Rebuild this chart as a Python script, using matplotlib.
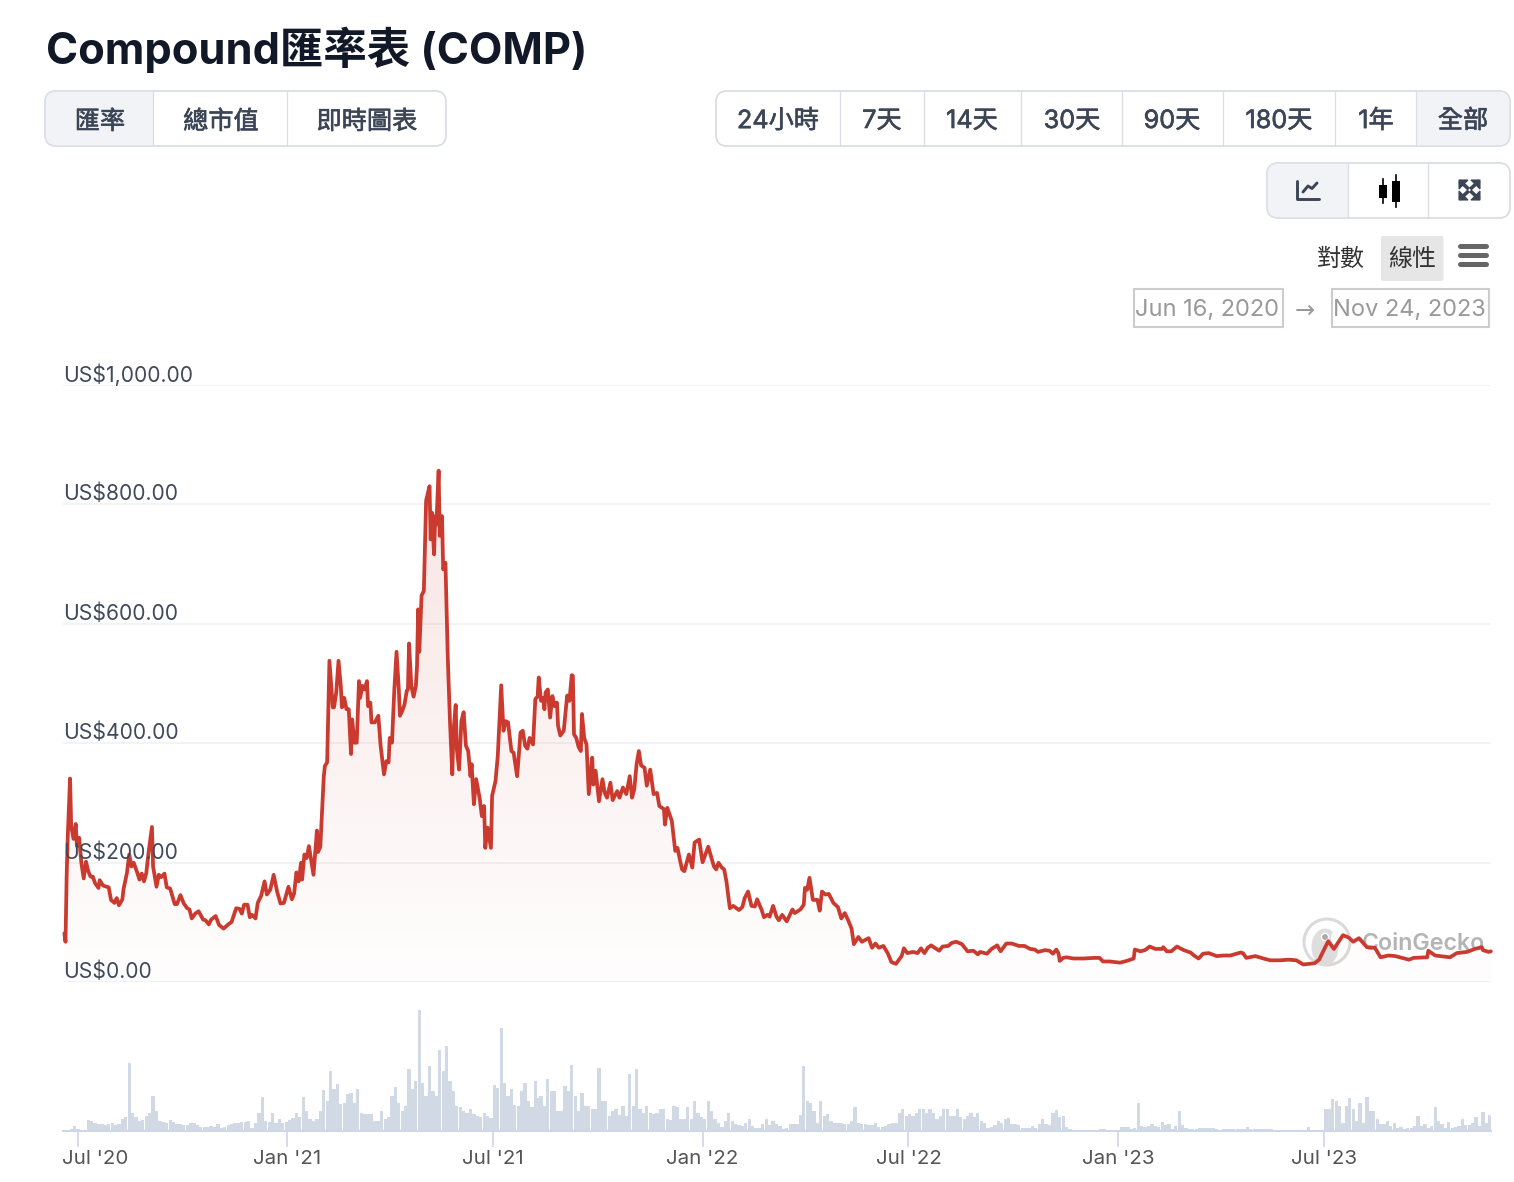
import numpy as np
import pandas as pd
import matplotlib
matplotlib.use("Agg")
import matplotlib.pyplot as plt
import matplotlib.dates as mdates
import matplotlib.patheffects as pe
from matplotlib.patches import FancyBboxPatch, Rectangle, Circle, Ellipse, Polygon
from matplotlib.transforms import ScaledTranslation

W, H = 1514, 1182
BASE_DATE = "2020-06-16"

# ---------- data ----------
price_days = [
 3,4,5,6,8,9,11,13,14,16,18,20,22,24,26,28,30,33,34,37,42,44,47,49,51,54,55,58,60,62,64,67,69,71,73,75,77,80,81,84,86,88,91,93,96,
 100,102,105,108,111,113,115,118,121,125,127,130,132,136,139,143,147,150,154,157,159,161,164,166,168,171,173,176,179,181,184,187,190,
 193,196,200,203,205,207,209,211,212,214,216,218,222,225,226,228,231,232,234,236,239,240,242,244,246,247,249,251,253,255,256,258,260,
 262,263,265,267,269,270,272,273,276,279,281,284,286,288,289,291,293,295,297,298,300,302,304,305,306,308,310,312,313,314,315,317,319,
 321,324,325,326,328,329,330,332,333,335,336,338,340,341,342,344,345,347,348,350,352,354,356,358,360,361,363,365,368,370,372,373,375,
 378,379,382,384,387,389,391,393,396,398,399,401,402,404,406,408,410,412,415,417,419,420,422,424,425,426,428,430,432,434,436,437,439,
 442,445,447,449,450,451,453,455,457,458,460,462,464,467,468,470,473,476,478,480,483,485,489,491,494,497,500,502,504,506,508,510,513,
 515,518,521,524,526,530,531,533,537,540,542,544,546,548,552,555,557,561,564,569,574,576,578,581,583,585,588,591,596,599,601,604,607,
 610,612,616,618,621,623,626,629,631,634,638,643,645,650,653,654,656,658,661,665,667,669,672,675,679,683,686,689,692,695,697,701,704,
 710,713,716,719,723,727,730,734,739,741,744,749,753,756,759,762,765,768,772,775,780,783,787,792,797,802,806,808,814,818,823,826,831,
 836,842,847,852,856,859,865,869,872,875,877,878,881,884,890,899,908,913,916,922,931,937,943,944,949,953,957,962,968,969,972,976,981,
 987,993,996,1000,1004,1009,1016,1022,1028,1037,1039,1042,1050,1057,1063,1072,1079,1086,1092,1102,1106,1114,1119,1127,1132,1136,1141,
 1148,1155,1160,1167,1173,1185,1189,1201,1202,1208,1221,1227,1236,1243,1249,1250,1255,1257]
price_usd = [
 82,68,177,245,341,262,240,265,228,242,199,174,202,186,177,177,166,158,171,162,159,138,133,141,129,139,156,183,214,194,200,184,172,182,169,183,217,260,194,160,180,176,182,159,157,
 131,131,146,132,124,122,107,115,119,105,104,97,105,111,96,90,97,101,124,123,115,130,130,109,113,107,133,145,169,147,155,180,152,
 132,133,160,139,149,184,169,200,172,214,208,228,180,254,218,227,343,362,368,538,460,460,485,538,496,460,476,457,457,382,440,401,401,
 504,476,496,490,504,462,468,435,435,446,396,348,370,368,409,401,488,553,490,446,454,465,488,490,567,496,478,496,529,624,553,647,655,
 806,830,741,786,716,780,766,856,747,780,691,702,546,488,435,348,418,464,390,356,437,452,396,387,345,365,298,340,309,278,295,225,259,
 225,312,337,379,497,421,437,435,387,384,370,345,368,418,421,396,391,409,398,474,478,510,471,476,457,485,490,443,479,462,468,429,413,
 421,480,471,514,513,415,409,394,387,449,409,398,315,376,331,354,303,340,317,309,334,305,320,309,326,315,345,309,323,365,387,363,359,
 329,356,315,317,295,290,264,292,270,220,225,206,189,186,214,192,234,239,201,227,194,189,200,192,189,169,124,128,121,126,141,152,128,
 127,139,121,109,113,110,128,110,104,113,102,122,116,122,130,158,155,175,138,138,120,152,147,148,133,126,107,116,104,90,64,76,68,
 74,58,65,58,61,48,34,31,44,57,49,51,49,57,49,58,62,58,53,60,61,66,68,64,52,53,47,51,48,56,62,52,65,
 65,61,61,56,55,51,54,53,48,55,48,36,41,42,40,40,41,41,35,35,33,36,40,55,52,54,60,56,56,59,52,52,60,
 54,50,45,40,48,49,44,45,45,50,49,41,44,40,37,37,38,37,30,32,38,69,56,79,75,68,74,
 59,58,42,45,44,38,41,42,53,45,42,49,51,56,59,54,51,52]

# traded volume, one reading every third day, in pixel-sized relative units
vol_start_2020 = 3
vol_2020_21 = [1,1,2,5,2,1,1,11,10,8,7,7,6,7,8,6,7,12,14,68,18,14,10,11,15,18,35,20,10,9,8,11,9,7,7,6,6,8,8,6,4,4,4,5,4,7,3,4,6,7,8,8,9,9,10,3,8,18,34,10,9,18,8,12,8,9,11,13,18,14,34,20,12,10,12,20,41,30,60,42,47,27,28,37,38,28,42,18,17,17,17,10,10,20,12,14,35,44,28,20,25,62,42,50,121,48,35,65,40,35,81,60,85,50,40,25,24,20,18,22,17,15,14,18,15,13,46,43,103,48,35,42,26,25,40,48,30,24,50,33]
vol_start_2021 = 422
vol_2021_22 = [35,25,52,40,40,20,20,45,40,66,35,20,38,25,25,22,22,63,30,30,15,20,22,16,25,15,57,25,62,22,18,25,18,17,18,22,22,12,11,25,24,12,12,24,12,30,18,14,12,30,20,12,8,4,10,18,10,7,6,5,8,12,5,3,3,7,12,6,10,7,5,2,3,7,7,7,16,65,30,28,20,8,30,15,17,10,8,8,8,7,7,10,24,8,7,7,6,6,8,4,4,5,7,8,8,18,22,15,17,15,18,22,22,18,22,18,12,15,22,22,15,15,22,14,12,15,18,14,18,10,8,3,4,6,10]
vol_start_2022 = 827
vol_2022_23 = [8,12,13,7,7,6,3,3,3,5,3,7,12,7,6,18,21,14,15,4,2,1,1,1,1,1,1,1,1,2,2,1,1,1,1,4,4,4,2,3,28,5,4,5,7,5,4,9,6,7,2,5,20,6,3,2,2,2,3,3,3,3,3,2,1,2,2,2,2,2,2,2,4,2,2,2,2,2,2,2,1,1,1,1,1,1,1,1,1,1,4,1,1,1,1,22,22,32,30,25,8,25,33,22,10,28,8,34,20,20,12,7,7,10,5,8,3,4,2,3,3,5,15,5,7,3,5,24,10,7,3,9,3,4,5,12,6,6,8,14,5,19,8,16,5,11]

price_ticks = [0, 200, 400, 600, 800, 1000]
price_labels = ["US$0.00", "US$200.00", "US$400.00", "US$600.00", "US$800.00", "US$1,000.00"]
date_ticks = ["2020-07-01", "2021-01-01", "2021-07-01", "2022-01-01", "2022-07-01", "2023-01-01", "2023-07-01"]
date_labels = ["Jul '20", "Jan '21", "Jul '21", "Jan '22", "Jul '22", "Jan '23", "Jul '23"]
title = "Compound匯率表 (COMP)"
metric_tabs = ["匯率", "總市值", "即時圖表"]
range_tabs = ["24小時", "7天", "14天", "30天", "90天", "180天", "1年", "全部"]
scale_tabs = ["對數", "線性"]
date_from, date_to = "Jun 16, 2020", "Nov 24, 2023"

# ---------- style ----------
RED = "#cb3a2f"
LATIN = ["Inter", "Noto Sans CJK TC", "DejaVu Sans"]
CJK = ["Noto Sans CJK TC", "DejaVu Sans"]
BTN = "#3b4556"
BORDER = "#dadde3"
ACTIVE = "#f1f3f7"

fig = plt.figure(figsize=(W / 100, H / 100), dpi=100, facecolor="white")
def px_axes(l, t, r, b, **kw):
    return fig.add_axes([l / W, 1 - b / H, (r - l) / W, (b - t) / H], **kw)

# UI layer in pixel coordinates
ui = px_axes(0, 0, W, H, zorder=0)
ui.set_xlim(0, W); ui.set_ylim(H, 0); ui.axis("off")

def T(x, y, s, px, color=BTN, weight="normal", ha="center", family=CJK, z=5, thick=0):
    t = ui.text(x, y, s, fontsize=px * 0.72, color=color, fontweight=weight, ha=ha, va="center_baseline",
                family=family, zorder=z)
    if thick:
        t.set_path_effects([pe.withStroke(linewidth=thick, foreground=color)])

def group(x0, x1, y0, y1, dividers, active):
    ui.add_patch(FancyBboxPatch((x0, y0), x1 - x0, y1 - y0, boxstyle="round,pad=0,rounding_size=11",
                                fc="white", ec=BORDER, lw=1.0, zorder=1))
    a0, a1 = active
    clip = FancyBboxPatch((x0, y0), x1 - x0, y1 - y0, boxstyle="round,pad=0,rounding_size=11",
                          fc="none", ec="none", transform=ui.transData)
    ui.add_patch(clip)
    r = Rectangle((a0, y0), a1 - a0, y1 - y0, fc=ACTIVE, ec="none", zorder=1.2)
    ui.add_patch(r); r.set_clip_path(clip)
    ui.add_patch(FancyBboxPatch((x0, y0), x1 - x0, y1 - y0, boxstyle="round,pad=0,rounding_size=11",
                                fc="none", ec=BORDER, lw=1.0, zorder=1.5))
    for d in dividers:
        ui.plot([d, d], [y0, y1], color=BORDER, lw=0.9, zorder=1.6, solid_capstyle="butt")

T(46, 45, title, 43.4, color="#111827", weight="bold", ha="left", family=LATIN)

group(45, 446, 91, 146, [153, 287], (45, 153))
for cx, s in zip([100, 221, 367], metric_tabs):
    T(cx, 119, s, 25.2, thick=0.45)

group(716, 1510, 91, 146, [840, 924, 1021, 1122, 1223, 1335, 1416], (1416, 1510))
for cx, s in zip([778, 882, 972, 1072, 1172, 1279, 1376, 1463], range_tabs):
    T(cx, 119, s, 25.2, family=LATIN, thick=0.45)

group(1267, 1510, 163, 218, [1348, 1428], (1267, 1348))
# line-chart icon
ui.plot([1297, 1297, 1319], [181, 199, 199], color=BTN, lw=2.1, solid_capstyle="round", solid_joinstyle="round", zorder=6)
ui.plot([1303, 1308, 1312, 1317], [192, 186, 188.5, 183], color=BTN, lw=2.1, solid_capstyle="round", zorder=6)
# candlestick icon
for cx, b0, b1, w0, w1, bw in [(1382.7, 185, 198, 179, 203, 8), (1396, 181, 202, 175, 207, 8)]:
    ui.plot([cx, cx], [w0, w1], color="black", lw=1.2, zorder=6)
    ui.add_patch(Rectangle((cx - bw / 2, b0), bw, b1 - b0, fc="black", ec="none", zorder=6))
# expand icon
for sx, sy in [(-1, -1), (1, -1), (-1, 1), (1, 1)]:
    cx, cy = 1469.5 + sx * 10.5, 190 + sy * 10
    ui.add_patch(Polygon([(cx, cy), (cx - sx * 9, cy), (cx, cy - sy * 9)], fc=BTN, ec=BTN, lw=0.8, zorder=6))
    ui.plot([1469.5 + sx * 2, cx - sx * 2], [190 + sy * 2, cy - sy * 2], color=BTN, lw=2.6, zorder=6)

# scale switch
ui.add_patch(FancyBboxPatch((1381, 236), 62.5, 45, boxstyle="round,pad=0,rounding_size=2", fc="#e6e6e6", ec="none", zorder=1))
T(1341, 257, scale_tabs[0], 24, color="#333333")
T(1412, 257, scale_tabs[1], 24, color="#333333")
for y in [246, 254.5, 263.5]:
    ui.plot([1460, 1486], [y, y], color="#666666", lw=3.6, solid_capstyle="round", zorder=5)

# date range boxes
for x0, x1, s in [(1133.5, 1282.5, date_from), (1331.5, 1489, date_to)]:
    ui.add_patch(Rectangle((x0, 289), x1 - x0, 37.5, fc="white", ec="#cccccc", lw=1.5, zorder=1))
    T((x0 + x1) / 2 - 1, 307.5, s, 23.6, color="#999999", family=LATIN)
T(1305, 308, "→", 24, color="#999999", family=["DejaVu Sans"])

# CoinGecko watermark (behind the price line)
ui.add_patch(Circle((1327, 942), 23, fc="white", ec="#dadada", lw=2.2, zorder=2))
ui.add_patch(Ellipse((1325, 947), 27, 37, fc="#dedede", ec="none", zorder=2.1))
ui.add_patch(Ellipse((1337, 938), 12, 16, fc="white", ec="none", zorder=2.2))
ui.add_patch(Circle((1325, 937), 3.6, fc="#a9a9a9", ec="white", lw=1, zorder=2.3))
T(1362, 941, "CoinGecko", 23.2, color="#b4b4b4", weight="semibold", ha="left", family=LATIN, z=2.4)

# ---------- price ----------
base = pd.Timestamp(BASE_DATE)
def to_num(days):
    return mdates.date2num(base + pd.to_timedelta(np.asarray(days, dtype=float), unit="D"))

ax = px_axes(63, 384.6, 1491, 982.4, zorder=1)
ax.patch.set_alpha(0)
x = to_num(price_days)
y = np.asarray(price_usd, dtype=float)
xmin, xmax = to_num([1.8])[0], to_num([1257.1])[0]

top = y.max()
grad = np.zeros((256, 2, 4))
grad[..., :3] = matplotlib.colors.to_rgb(RED)
grad[..., 3] = np.linspace(0.135, 0.008, 256)[:, None]
im = ax.imshow(grad, extent=(xmin, xmax, 0, top), aspect="auto", origin="upper", zorder=1, interpolation="bilinear")
poly = Polygon(np.column_stack([np.r_[x[0], x, x[-1]], np.r_[0, y, 0]]), closed=True, transform=ax.transData, fc="none", ec="none")
ax.add_patch(poly)
im.set_clip_path(poly)
ax.plot(x, y, color=RED, lw=2.7, zorder=3, solid_joinstyle="round", solid_capstyle="round", clip_on=False)

ax.set_xlim(xmin, xmax)
ax.set_ylim(0, 1000)
ax.set_yticks(price_ticks)
ax.set_yticklabels([])
ax.set_xticks([])
ax.tick_params(length=0)
ax.yaxis.grid(True, color="#f2f3f6", lw=1.4)
ax.set_axisbelow(True)
for sp in ax.spines.values():
    sp.set_visible(False)
for v, s in zip(price_ticks, price_labels):
    ax.annotate(s, xy=(0, v), xycoords=("axes fraction", "data"), xytext=(0.2, 8.8), textcoords="offset points",
                fontsize=15.2, color="#3f4a5a", ha="left", va="center_baseline", family=LATIN, zorder=4, annotation_clip=False)

# ---------- volume ----------
vax = px_axes(63, 1005, 1491, 1131, zorder=1)
vax.patch.set_alpha(0)
for start, vals in [(vol_start_2020, vol_2020_21), (vol_start_2021, vol_2021_22), (vol_start_2022, vol_2022_23)]:
    d = start + 3 * np.arange(len(vals))
    vax.bar(to_num(d), vals, width=2.85, color="#d1d9e4", lw=0)
vax.set_xlim(xmin, xmax)
vax.set_ylim(0, 126)
vax.set_yticks([])
vax.set_xticks(mdates.date2num(pd.to_datetime(date_ticks)))
vax.set_xticklabels(date_labels, fontsize=14.8, color="#555555", family=LATIN)
vax.tick_params(axis="x", length=11.5, width=1.2, color="#ccd6eb", pad=2.2)
for name, sp in vax.spines.items():
    sp.set_visible(name == "bottom")
vax.spines["bottom"].set_color("#ccd6eb")
vax.spines["bottom"].set_linewidth(1.4)
first = vax.get_xticklabels()[0]
first.set_transform(first.get_transform() + ScaledTranslation(17.5 / 100, 0, fig.dpi_scale_trans))

fig.savefig("out.png", dpi=100, facecolor="white")
